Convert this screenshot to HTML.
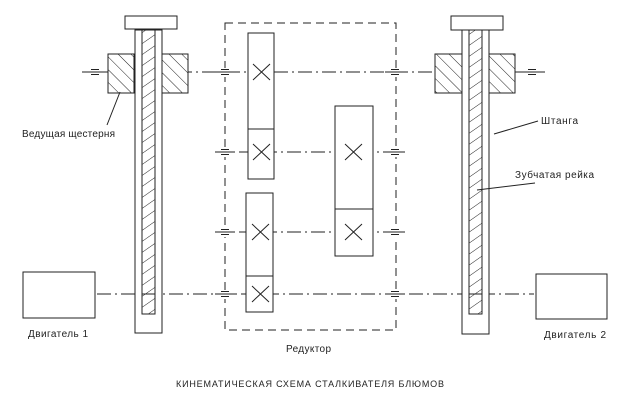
<!DOCTYPE html>
<html><head><meta charset="utf-8"><style>
html,body{margin:0;padding:0;background:#fff;width:624px;height:410px;overflow:hidden}
text{font-family:"Liberation Sans",sans-serif;fill:#222}
</style></head><body>
<svg width="624" height="410" viewBox="0 0 624 410" xmlns="http://www.w3.org/2000/svg">
<defs>
<pattern id="hb" width="9" height="9" patternUnits="userSpaceOnUse" patternTransform="rotate(-45)">
<rect width="9" height="9" fill="#fff"/>
<line x1="0" y1="0" x2="0" y2="9" stroke="#222" stroke-width="1"/></pattern>
<pattern id="hr" width="9" height="9" patternUnits="userSpaceOnUse" patternTransform="rotate(55)">
<rect width="9" height="9" fill="#fff"/>
<line x1="0" y1="0" x2="0" y2="9" stroke="#222" stroke-width="1"/></pattern>
</defs>
<g stroke="#222" stroke-width="1" fill="none">
<g stroke-dasharray="14,4,2,4">
<line x1="82" y1="72" x2="545" y2="72"/>
<line x1="215" y1="152" x2="405" y2="152"/>
<line x1="215" y1="232" x2="405" y2="232"/>
<line x1="97" y1="294" x2="534" y2="294"/>
</g>
<rect x="225" y="23" width="171" height="307" stroke-dasharray="8,5"/>
<g fill="#fff" stroke="none">
<rect x="87" y="68" width="16" height="9"/><rect x="524" y="68" width="16" height="9"/>
<rect x="218" y="68" width="14" height="9"/><rect x="388" y="68" width="14" height="9"/>
<rect x="218" y="148" width="14" height="9"/><rect x="388" y="148" width="14" height="9"/>
<rect x="218" y="228" width="14" height="9"/><rect x="388" y="228" width="14" height="9"/>
<rect x="218" y="290" width="14" height="9"/><rect x="388" y="290" width="14" height="9"/>
</g>
<g>
<path d="M84 72h22M91 69.5h8M91 74.5h8"/>
<path d="M521 72h22M528 69.5h8M528 74.5h8"/>
<path d="M215 72h20M221 69.5h8M221 74.5h8M391 69.5h8M391 74.5h8M385 72h20"/>
<path d="M215 152h20M221 149.5h8M221 154.5h8M391 149.5h8M391 154.5h8M385 152h20"/>
<path d="M215 232h20M221 229.5h8M221 234.5h8M391 229.5h8M391 234.5h8M385 232h20"/>
<path d="M215 294h20M221 291.5h8M221 296.5h8M391 291.5h8M391 296.5h8M385 294h20"/>
</g>
<rect x="125" y="16" width="52" height="13" fill="#fff"/>
<rect x="135" y="30" width="27" height="303" fill="#fff"/>
<rect x="142" y="30" width="13" height="284" fill="url(#hr)"/>
<rect x="108" y="54" width="26" height="39" fill="url(#hb)"/>
<rect x="162" y="54" width="26" height="39" fill="url(#hb)"/>
<rect x="451" y="16" width="52" height="14" fill="#fff"/>
<rect x="462" y="30" width="27" height="304" fill="#fff"/>
<rect x="469" y="30" width="13" height="284" fill="url(#hr)"/>
<rect x="435" y="54" width="27" height="39" fill="url(#hb)"/>
<rect x="489" y="54" width="26" height="39" fill="url(#hb)"/>
<line x1="142" y1="294" x2="155" y2="294"/>
<line x1="469" y1="294" x2="482" y2="294"/>
<rect x="248" y="33" width="26" height="146" fill="#fff"/><line x1="248" y1="129" x2="274" y2="129"/>
<rect x="335" y="106" width="38" height="150" fill="#fff"/><line x1="335" y1="209" x2="373" y2="209"/>
<rect x="246" y="193" width="27" height="119" fill="#fff"/><line x1="246" y1="276" x2="273" y2="276"/>
<path d="M253 64l17 16M270 64l-17 16M253 144l17 16M270 144l-17 16"/>
<path d="M345 144l17 16M362 144l-17 16M345 224l17 16M362 224l-17 16"/>
<path d="M252 224l17 16M269 224l-17 16M252 286l17 16M269 286l-17 16"/>
<rect x="23" y="272" width="72" height="46" fill="#fff"/>
<rect x="536" y="274" width="71" height="45" fill="#fff"/>
<line x1="120" y1="92" x2="107" y2="125"/>
<line x1="538" y1="121" x2="494" y2="134"/>
<line x1="535" y1="183" x2="477" y2="190"/>
</g>
<text x="22" y="137" font-size="10" textLength="93">Ведущая щестерня</text>
<text x="541" y="124" font-size="10" textLength="37">Штанга</text>
<text x="515" y="178" font-size="10" textLength="79">Зубчатая рейка</text>
<text x="28" y="337" font-size="10" textLength="60">Двигатель 1</text>
<text x="544" y="338" font-size="10" textLength="62">Двигатель 2</text>
<text x="286" y="352" font-size="10" textLength="45">Редуктор</text>
<text x="176" y="387" font-size="9" textLength="268">КИНЕМАТИЧЕСКАЯ СХЕМА СТАЛКИВАТЕЛЯ БЛЮМОВ</text>
</svg>
</body></html>
